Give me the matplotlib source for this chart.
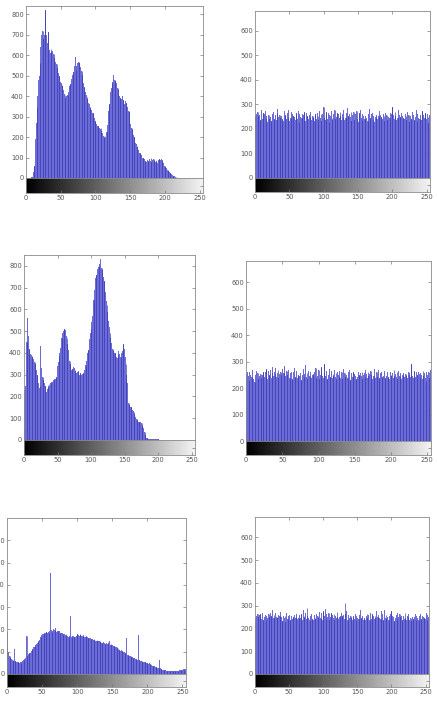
import numpy as np
import matplotlib as mpl
import matplotlib.pyplot as plt
mpl.use('Agg')

plt.rcParams['font.family'] = ['Liberation Sans Narrow', 'DejaVu Sans']

# histogram counts, 256 grey levels each
hist_a = [
    0, 0, 0, 0, 0, 0, 0, 0, 3, 6, 12, 30, 60, 120, 190, 270,
    345, 400, 480, 500, 560, 640, 700, 660, 720, 680, 650, 700, 820, 690, 700, 660,
    715, 630, 625, 610, 632, 615, 622, 598, 607, 585, 582, 566, 558, 538, 532, 512,
    500, 492, 468, 466, 452, 450, 428, 410, 406, 392, 400, 383, 405, 420, 436, 450,
    458, 476, 484, 502, 520, 508, 546, 590, 528, 547, 560, 582, 568, 562, 553, 541,
    524, 502, 478, 462, 444, 431, 418, 406, 398, 386, 368, 361, 348, 341, 333, 326,
    318, 316, 298, 291, 278, 271, 263, 256, 253, 251, 243, 241, 246, 229, 221, 209,
    206, 194, 191, 199, 226, 258, 302, 328, 362, 408, 422, 438, 462, 468, 502, 505,
    478, 472, 463, 452, 438, 431, 403, 401, 393, 386, 388, 402, 383, 381, 363, 376,
    368, 366, 348, 341, 328, 321, 288, 262, 243, 236, 218, 211, 198, 191, 173, 166,
    158, 151, 138, 131, 123, 121, 113, 111, 98, 96, 94, 91, 83, 89, 79, 88,
    84, 78, 91, 84, 96, 79, 87, 74, 91, 84, 81, 77, 83, 74, 81, 88,
    95, 89, 86, 92, 84, 88, 74, 66, 59, 56, 49, 46, 39, 36, 31, 28,
    25, 22, 18, 15, 12, 10, 8, 5, 3, 0, 0, 0, 0, 0, 0, 0,
    0, 0, 0, 0, 0, 0, 0, 0, 0, 0, 0, 0, 0, 0, 0, 0,
    0, 0, 0, 0, 0, 0, 0, 0, 0, 0, 0, 0, 0, 0, 0, 0,
]
hist_b = [
    255, 248, 262, 240, 270, 252, 245, 258, 236, 275, 250, 242, 266, 238, 259, 271,
    244, 252, 230, 268, 256, 241, 279, 247, 233, 262, 254, 270, 239, 246, 258, 236,
    264, 281, 249, 227, 255, 243, 268, 252, 240, 262, 231, 273, 258, 246, 239, 265,
    250, 276, 233, 257, 244, 269, 238, 261, 252, 280, 247, 236, 266, 254, 241, 272,
    229, 259, 250, 283, 244, 262, 238, 256, 270, 247, 233, 264, 252, 287, 241, 258,
    249, 268, 235, 262, 254, 245, 276, 231, 259, 250, 240, 265, 253, 238, 271, 246,
    259, 233, 262, 249, 288, 244, 257, 236, 268, 251, 241, 263, 230, 258, 254, 272,
    243, 235, 261, 250, 278, 239, 256, 247, 266, 232, 259, 244, 270, 253, 238, 262,
    248, 276, 235, 257, 245, 264, 240, 284, 251, 236, 262, 248, 270, 233, 255, 244,
    267, 238, 259, 250, 273, 241, 256, 230, 264, 249, 277, 243, 236, 260, 252, 268,
    239, 254, 246, 271, 234, 262, 250, 281, 245, 237, 259, 266, 242, 253, 228, 270,
    248, 256, 239, 263, 251, 274, 236, 258, 247, 285, 240, 261, 252, 232, 266, 245,
    257, 238, 272, 250, 243, 264, 234, 259, 288, 247, 255, 240, 269, 252, 236, 262,
    244, 275, 231, 257, 249, 266, 238, 254, 246, 273, 240, 260, 251, 235, 267, 244,
    258, 229, 264, 253, 241, 270, 247, 256, 238, 262, 250, 276, 233, 259, 245, 268,
    240, 255, 262, 236, 271, 249, 258, 243, 266, 252, 239, 261, 247, 222, 255, 218,
]
hist_c = [
    50, 230, 250, 400, 450, 560, 680, 480, 420, 405, 395, 390, 385, 380, 370, 365,
    360, 350, 335, 320, 300, 280, 260, 240, 250, 430, 330, 300, 290, 275, 265, 260,
    250, 230, 220, 235, 245, 250, 255, 258, 260, 265, 268, 272, 275, 278, 280, 282,
    290, 310, 340, 360, 385, 400, 425, 445, 470, 490, 495, 500, 510, 540, 505, 480,
    470, 440, 415, 390, 365, 350, 330, 320, 325, 330, 336, 330, 320, 315, 310, 305,
    312, 315, 308, 300, 306, 300, 298, 302, 306, 310, 320, 335, 344, 365, 380, 400,
    415, 440, 465, 490, 510, 540, 570, 610, 645, 690, 730, 745, 760, 765, 785, 795,
    800, 810, 830, 800, 790, 780, 765, 750, 730, 700, 680, 640, 620, 590, 545, 520,
    490, 470, 445, 430, 420, 410, 405, 400, 398, 390, 380, 375, 390, 410, 395, 385,
    380, 400, 428, 410, 440, 465, 420, 382, 350, 300, 260, 200, 168, 160, 155, 153,
    150, 145, 140, 135, 130, 118, 107, 100, 95, 92, 88, 84, 85, 84, 84, 80,
    76, 65, 55, 46, 35, 23, 15, 10, 8, 6, 5, 6, 5, 4, 5, 6,
    4, 5, 4, 5, 3, 4, 3, 4, 3, 3, 2, 3, 2, 2, 1, 1,
    1, 1, 1, 1, 1, 1, 1, 1, 1, 1, 1, 1, 1, 0, 0, 0,
    0, 0, 0, 0, 0, 0, 0, 0, 0, 0, 0, 0, 0, 0, 0, 0,
    0, 0, 0, 0, 0, 0, 0, 0, 0, 0, 0, 0, 0, 0, 0, 0,
]
hist_d = [
    238, 252, 260, 244, 231, 262, 248, 255, 240, 270, 236, 258, 224, 249, 266, 242,
    257, 235, 284, 246, 253, 239, 268, 251, 262, 243, 236, 259, 271, 248, 233, 264,
    250, 244, 269, 237, 258, 280, 246, 261, 252, 275, 241, 256, 267, 238, 253, 230,
    262, 249, 271, 240, 257, 283, 245, 236, 264, 251, 244, 270, 238, 256, 248, 262,
    233, 259, 247, 276, 241, 254, 263, 238, 250, 268, 245, 257, 232, 261, 249, 272,
    240, 255, 286, 243, 258, 236, 266, 251, 244, 262, 237, 270, 248, 255, 262, 241,
    274, 239, 253, 247, 267, 233, 258, 249, 280, 244, 256, 238, 291, 252, 246, 263,
    236, 258, 249, 271, 243, 255, 264, 238, 252, 247, 269, 241, 257, 233, 261, 250,
    244, 266, 238, 253, 260, 235, 272, 248, 256, 241, 263, 250, 237, 259, 245, 268,
    232, 256, 249, 242, 261, 238, 254, 247, 236, 258, 243, 262, 250, 239, 257, 245,
    262, 235, 248, 256, 241, 267, 252, 238, 260, 246, 254, 240, 265, 249, 234, 258,
    246, 271, 239, 255, 262, 243, 251, 268, 237, 257, 249, 262, 240, 256, 244, 265,
    238, 253, 247, 260, 241, 256, 235, 262, 250, 244, 258, 239, 268, 247, 255, 241,
    259, 236, 264, 250, 245, 257, 233, 262, 248, 256, 240, 266, 252, 245, 259, 237,
    262, 249, 255, 240, 290, 246, 258, 237, 265, 251, 243, 260, 248, 235, 262, 254,
    241, 258, 250, 236, 263, 247, 256, 239, 225, 262, 250, 245, 260, 238, 268, 262,
]
hist_e = [
    190, 120, 100, 88, 80, 72, 68, 65, 62, 60, 70, 110, 58, 56, 54, 52,
    55, 52, 50, 53, 51, 55, 58, 62, 64, 66, 70, 72, 170, 82, 86, 90,
    92, 96, 100, 105, 110, 115, 120, 123, 126, 131, 134, 138, 142, 148, 153, 160,
    168, 175, 183, 180, 178, 182, 186, 184, 188, 191, 186, 190, 186, 192, 455, 198,
    190, 195, 200, 192, 198, 205, 196, 190, 194, 191, 188, 195, 186, 190, 184, 182,
    180, 185, 178, 176, 178, 172, 171, 175, 168, 172, 260, 170, 168, 172, 166, 170,
    165, 174, 165, 172, 178, 170, 175, 171, 180, 176, 172, 176, 170, 174, 168, 172,
    165, 170, 168, 165, 162, 166, 160, 161, 158, 160, 155, 153, 156, 153, 150, 148,
    151, 146, 148, 145, 150, 142, 215, 140, 138, 142, 136, 140, 135, 150, 138, 134,
    142, 135, 146, 132, 136, 130, 131, 128, 126, 125, 128, 123, 120, 118, 115, 112,
    108, 110, 105, 106, 102, 101, 98, 100, 95, 92, 160, 88, 86, 84, 82, 80,
    79, 78, 76, 75, 72, 71, 70, 68, 67, 65, 64, 176, 62, 63, 60, 58,
    57, 56, 55, 120, 53, 52, 51, 50, 49, 48, 47, 48, 46, 90, 40, 38,
    36, 35, 34, 32, 31, 30, 29, 28, 27, 63, 26, 25, 24, 22, 20, 19,
    18, 17, 16, 15, 15, 15, 14, 15, 14, 13, 14, 14, 13, 14, 15, 14,
    13, 14, 15, 14, 15, 16, 17, 18, 18, 19, 20, 21, 20, 22, 21, 20,
]
hist_f = [
    232, 248, 255, 240, 262, 251, 238, 258, 265, 247, 242, 270, 236, 254, 249, 261,
    238, 256, 245, 232, 263, 250, 241, 268, 254, 239, 283, 247, 258, 244, 266, 236,
    252, 245, 260, 238, 255, 271, 242, 249, 235, 262, 253, 244, 257, 230, 266, 248,
    241, 256, 248, 261, 237, 254, 265, 243, 250, 239, 258, 246, 252, 263, 240, 256,
    247, 259, 272, 244, 262, 251, 238, 283, 256, 245, 266, 241, 290, 253, 248, 262,
    239, 257, 250, 265, 243, 254, 236, 260, 248, 240, 262, 218, 255, 246, 259, 271,
    244, 268, 252, 239, 275, 248, 256, 286, 241, 263, 250, 245, 270, 238, 258, 252,
    266, 243, 259, 248, 262, 236, 254, 245, 272, 250, 240, 263, 249, 256, 242, 268,
    253, 247, 258, 241, 310, 262, 278, 250, 236, 259, 244, 221, 255, 248, 264, 239,
    257, 250, 243, 262, 236, 255, 248, 266, 240, 258, 250, 281, 245, 262, 253, 239,
    248, 262, 238, 255, 265, 244, 259, 250, 236, 270, 252, 241, 263, 248, 257, 240,
    255, 246, 279, 238, 252, 261, 245, 256, 240, 276, 249, 262, 236, 255, 281, 247,
    259, 243, 252, 266, 239, 255, 248, 262, 277, 241, 256, 250, 234, 263, 247, 258,
    241, 268, 250, 238, 262, 252, 245, 257, 236, 260, 254, 243, 266, 248, 239, 256,
    250, 262, 238, 255, 246, 233, 260, 249, 241, 258, 252, 265, 236, 254, 244, 261,
    238, 256, 248, 262, 241, 255, 236, 250, 246, 260, 242, 267, 239, 258, 249, 265,
]
xticks = [0, 50, 100, 150, 200, 250]

W, H = 437, 709
fig = plt.figure(figsize=(W / 100, H / 100), dpi=100)


def rect(x0, x1, y0, y1):
    # pixel box -> figure fraction
    return [x0 / W, 1 - y1 / H, (x1 - x0) / W, (y1 - y0) / H]


def style(ax):
    for s in ax.spines.values():
        s.set_color('#8a8a8a')
        s.set_linewidth(0.6)
    ax.tick_params(direction='in', length=2, width=0.5, color='#777777',
                   labelcolor='#555555', labelsize=4.8, pad=1.5)


def draw(counts, ymax, x0, x1, ytop, yzero, ybot):
    counts = np.asarray(counts)
    x = np.arange(len(counts))
    ax = fig.add_axes(rect(x0, x1, ytop, yzero))
    ax.bar(x, counts, width=1.0, color='#6c6cd9', linewidth=0)
    ax.vlines(x[::4], 0, counts[::4], color='#3030a8', lw=0.45)
    ax.set_xlim(0, 255)
    ax.set_ylim(0, ymax)
    ax.set_xticks(xticks[1:-1])
    ax.set_yticks(np.arange(0, ymax, 100))
    style(ax)
    ax.tick_params(top=True, right=True, labelbottom=False, bottom=False)

    cax = fig.add_axes(rect(x0, x1, yzero, ybot))
    grad = np.linspace(0, 1, 256).reshape(1, -1)
    cax.imshow(grad, cmap='gray', aspect='auto', extent=[0, 255, 0, 1], vmin=0, vmax=1.05)
    cax.set_xlim(0, 255)
    cax.set_xticks(xticks)
    cax.yaxis.tick_right()
    cax.set_yticks([0.5])
    cax.set_yticklabels([])
    style(cax)


draw(hist_a, 840, 26, 203, 6, 178, 193)
draw(hist_b, 680, 255, 430, 11, 178, 192)
draw(hist_c, 850, 24, 195, 255, 440, 455)
draw(hist_d, 680, 246, 431, 261, 441, 455)
draw(hist_e, 700, 7, 186, 518, 674, 687)
draw(hist_f, 690, 255, 429, 517, 674, 687)

fig.savefig('out.png', dpi=100, facecolor='white')
